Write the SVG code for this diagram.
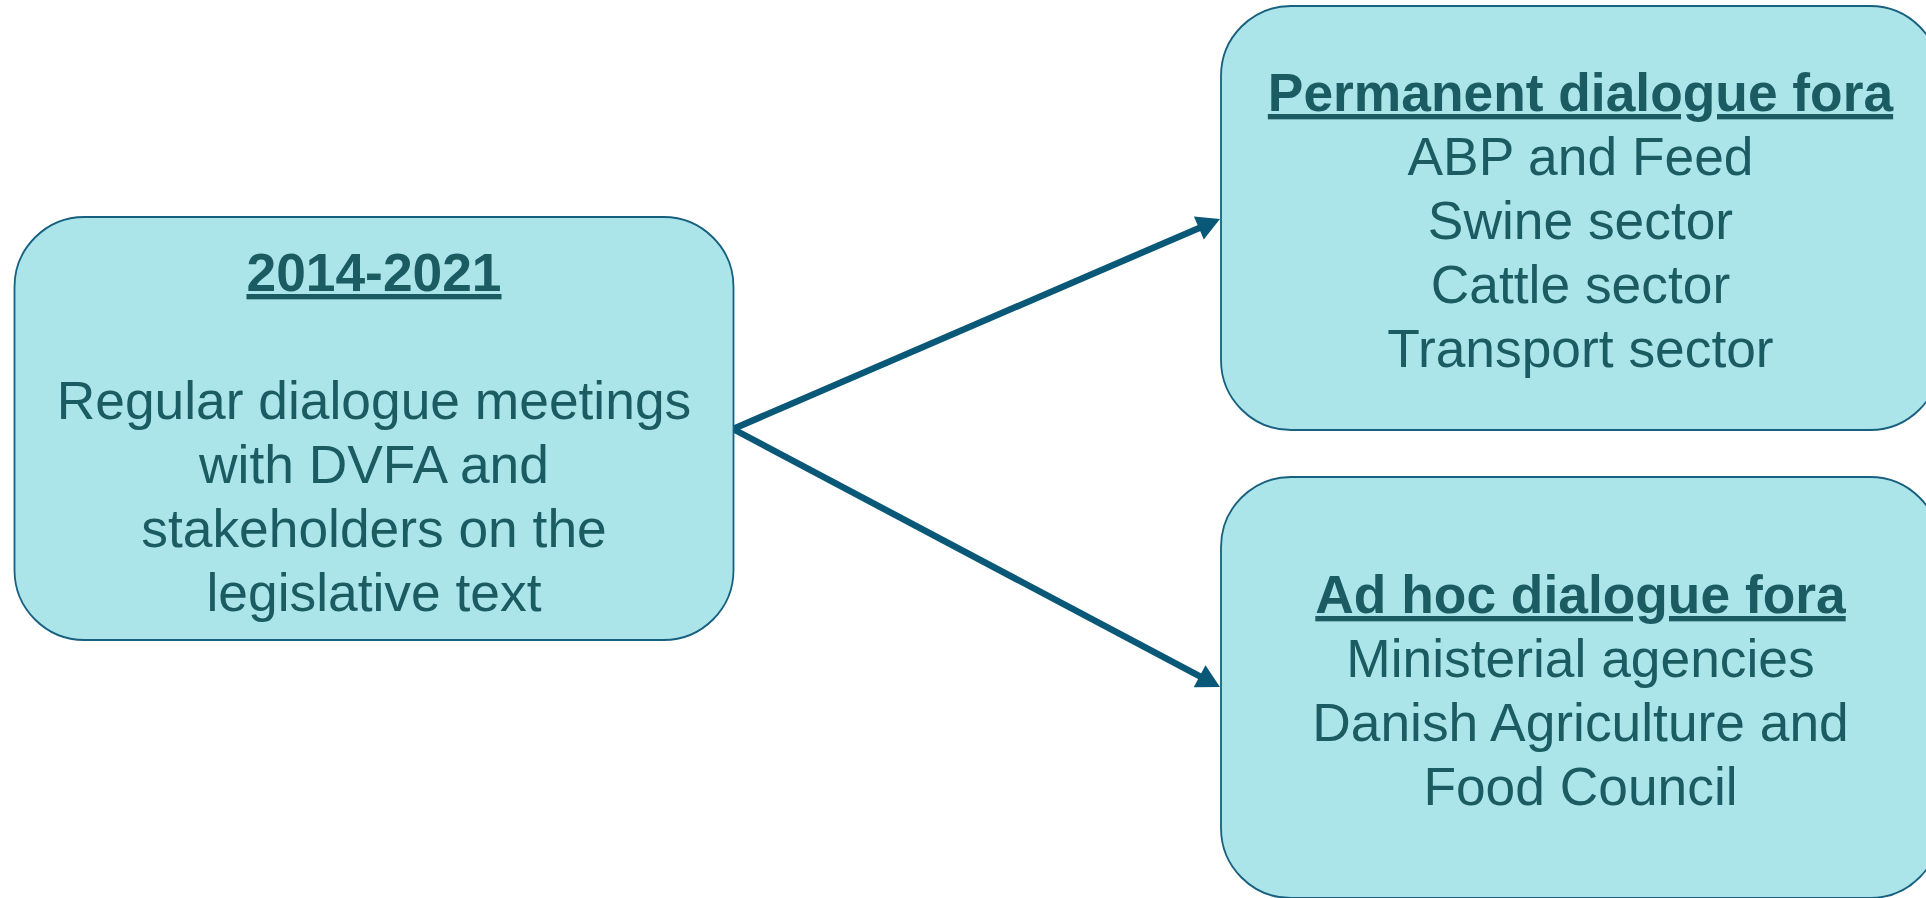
<svg xmlns="http://www.w3.org/2000/svg" width="1926" height="898" viewBox="0 0 1926 898">
<style>
.box{fill:#ABE4E9;stroke:#17607F;stroke-width:1.8}
.t{font-family:"Liberation Sans",Arial,sans-serif;font-size:53.33px;fill:#1A5C62;text-anchor:middle}
.h{font-weight:bold;text-decoration:underline}
.c{stroke:#0A5878;stroke-width:6.5;fill:none}
</style>
<defs>
<marker id="ah" markerUnits="userSpaceOnUse" markerWidth="24" markerHeight="25" viewBox="0 0 23 25" refX="3" refY="12.5" orient="auto">
<path d="M0,0 L23,12.5 L0,25 z" fill="#0A5878"/>
</marker>
</defs>
<rect width="1926" height="898" fill="#FFFFFF"/>
<g id="connectors">
<line class="c" x1="733" y1="429" x2="1201.6" y2="226.9" marker-end="url(#ah)"/>
<line class="c" x1="733" y1="429" x2="1202.3" y2="677.6" marker-end="url(#ah)"/>
</g>
<g id="node-2014-2021">
<rect class="box" x="14.5" y="217" width="719" height="423" rx="70" ry="70"/>
<text class="t h" x="374" y="291">2014-2021</text>
<text class="t" x="374" y="419">Regular dialogue meetings</text>
<text class="t" x="374" y="483">with DVFA and</text>
<text class="t" x="374" y="547">stakeholders on the</text>
<text class="t" x="374" y="611">legislative text</text>
</g>
<g id="node-permanent">
<rect class="box" x="1221" y="6" width="719" height="424" rx="70" ry="70"/>
<text class="t h" x="1580.5" y="111">Permanent dialogue fora</text>
<text class="t" x="1580.5" y="175">ABP and Feed</text>
<text class="t" x="1580.5" y="239">Swine sector</text>
<text class="t" x="1580.5" y="303">Cattle sector</text>
<text class="t" x="1580.5" y="367">Transport sector</text>
</g>
<g id="node-adhoc">
<rect class="box" x="1221" y="477" width="719" height="421" rx="70" ry="70"/>
<text class="t h" x="1580.5" y="613">Ad hoc dialogue fora</text>
<text class="t" x="1580.5" y="677">Ministerial agencies</text>
<text class="t" x="1580.5" y="741">Danish Agriculture and</text>
<text class="t" x="1580.5" y="805">Food Council</text>
</g>
</svg>
